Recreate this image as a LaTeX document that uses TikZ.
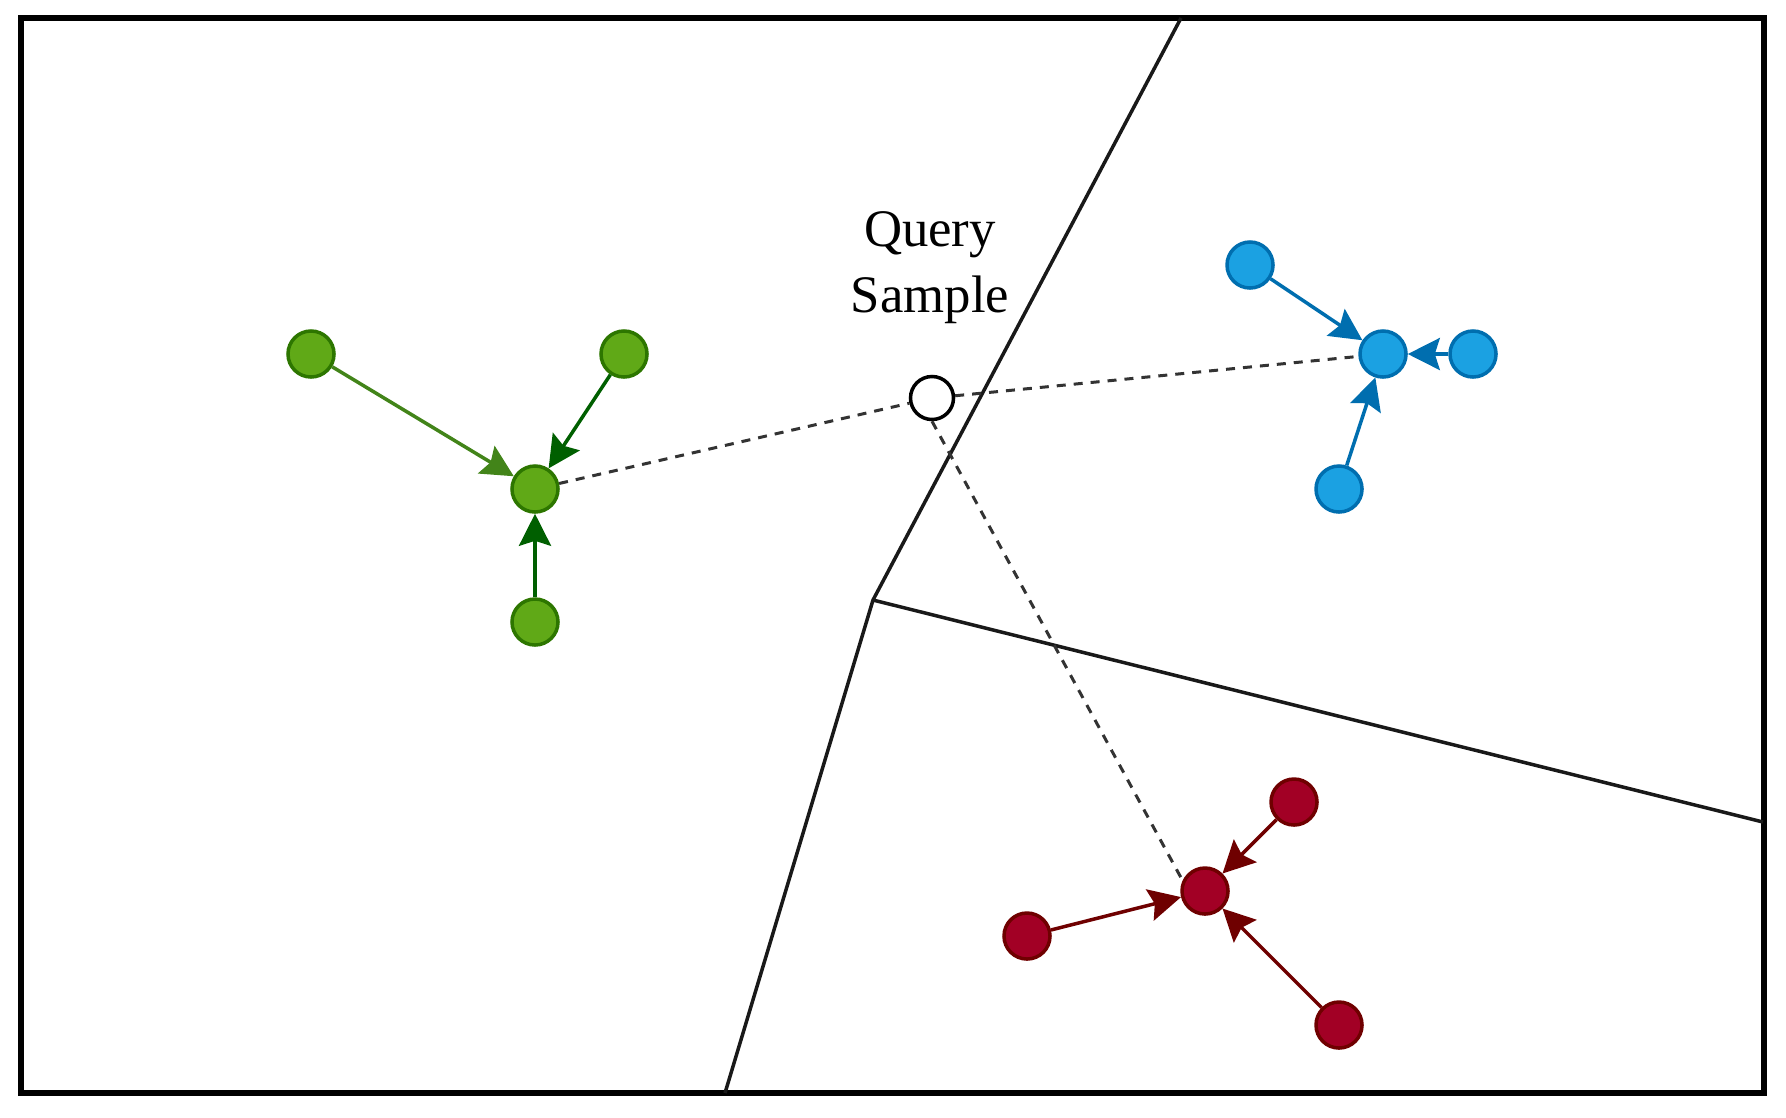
\documentclass[tikz,border=0pt]{standalone}
\usepackage{fontspec}
\setmainfont{Liberation Serif}
\usetikzlibrary{arrows.meta}
\definecolor{gfill}{HTML}{60A917}
\definecolor{gline}{HTML}{2D7600}
\definecolor{gdark}{HTML}{005F00}
\definecolor{bfill}{HTML}{1BA1E2}
\definecolor{bline}{HTML}{006EAF}
\definecolor{rfill}{HTML}{A20025}
\definecolor{rline}{HTML}{6F0000}
\tikzset{
  pt/.style={circle, inner sep=0pt, minimum size=0.46cm, line width=0.035cm},
  gpt/.style={pt, fill=gfill, draw=gline},
  bpt/.style={pt, fill=bfill, draw=bline},
  rpt/.style={pt, fill=rfill, draw=rline},
  qpt/.style={pt, fill=white, draw=black, minimum size=0.43cm},
  pull/.style={line width=0.035cm, -{Stealth[length=0.32cm,width=0.32cm,inset=0.05cm]}},
  dist/.style={line width=0.03cm, dash pattern=on 0.09cm off 0.08cm, draw=black!80},
  border/.style={line width=0.035cm, draw=black!90},
}
\begin{document}
\begin{tikzpicture}[x=0.01cm, y=-0.01cm]
\useasboundingbox (0,0) rectangle (1786,1117);
\draw[line width=0.06cm] (21,18) rectangle (1764,1093);

% region borders
\coordinate (jt) at (1181,18);
\coordinate (jm) at (873,600);
\coordinate (jb) at (725,1093);
\coordinate (jr) at (1763,822);
\draw[border] (jt) -- (jm) -- (jb);
\draw[border] (jm) -- (jr);

% nodes
\node[gpt] (g1) at (311,354) {};
\node[gpt] (g2) at (624,354) {};
\node[gpt] (gc) at (535,489) {};
\node[gpt] (g3) at (535,622) {};

\node[bpt] (b1) at (1250,265) {};
\node[bpt] (bc) at (1383,354) {};
\node[bpt] (b2) at (1473,354) {};
\node[bpt] (b3) at (1339,489) {};

\node[rpt] (r1) at (1294,802) {};
\node[rpt] (rc) at (1205,891) {};
\node[rpt] (r2) at (1027,936) {};
\node[rpt] (r3) at (1339,1025) {};

\node[qpt] (q) at (932,398) {};
\node[align=center, inner sep=0pt, font=\fontsize{15}{18.8}\selectfont] (ql) at (930,268) {Query\\Sample};

% distance lines
\draw[dist] (gc) -- (q);
\draw[dist] (q) -- (bc);
\draw[dist] (q.south) -- (rc.155);

% pulls
\draw[pull, draw=gline!90!white] (g1) -- (gc);
\draw[pull, draw=gdark] (g2) -- (gc);
\draw[pull, draw=gdark] (g3) -- (gc);
\draw[pull, draw=bline] (b1) -- (bc);
\draw[pull, draw=bline] (b2) -- (bc);
\draw[pull, draw=bline] (b3) -- (bc);
\draw[pull, draw=rline] (r1) -- (rc);
\draw[pull, draw=rline] (r2) -- (rc);
\draw[pull, draw=rline] (r3) -- (rc);
\end{tikzpicture}
\end{document}
